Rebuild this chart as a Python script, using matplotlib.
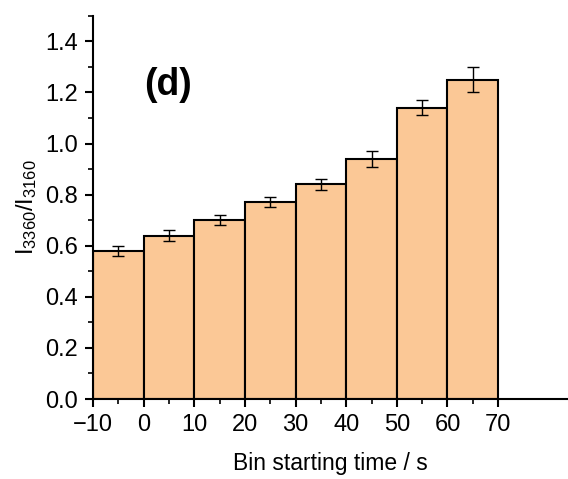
import matplotlib.pyplot as plt
from matplotlib.ticker import MultipleLocator, FixedLocator

plt.rcParams['font.family'] = ['Liberation Sans', 'DejaVu Sans']
plt.rcParams['mathtext.fontset'] = 'custom'
plt.rcParams['mathtext.rm'] = 'Liberation Sans'

# bin start times and ratio values
bin_start = [-10, 0, 10, 20, 30, 40, 50, 60]
ratio = [0.58, 0.64, 0.70, 0.77, 0.84, 0.94, 1.14, 1.25]
ratio_err = [0.02, 0.02, 0.02, 0.02, 0.02, 0.03, 0.03, 0.05]
bin_width = 10

fig = plt.figure(figsize=(5.68, 4.79), dpi=100)
ax = fig.add_axes([0.1637, 0.167, 0.8363, 0.80])

centers = [b + bin_width / 2 for b in bin_start]
ax.bar(centers, ratio, width=bin_width, color='#FBC896', edgecolor='black',
       linewidth=1.5, zorder=2)
ax.errorbar(centers, ratio, yerr=ratio_err, fmt='none', ecolor='black',
            elinewidth=1, capsize=4, capthick=1, zorder=3)

ax.set_xlim(-10, 83.8)
ax.set_ylim(0, 1.5)
ax.set_xticks(range(-10, 80, 10))
ax.set_yticks([0.0, 0.2, 0.4, 0.6, 0.8, 1.0, 1.2, 1.4])
ax.xaxis.set_minor_locator(FixedLocator(centers))
ax.yaxis.set_minor_locator(MultipleLocator(0.1))
ax.yaxis.set_major_formatter(plt.FormatStrFormatter('%.1f'))

ax.spines['top'].set_visible(False)
ax.spines['right'].set_visible(False)
ax.spines['left'].set_linewidth(1.5)
ax.spines['bottom'].set_linewidth(1.5)
ax.tick_params(which='major', direction='out', length=6, width=1.5,
               labelsize=17, pad=5)
ax.tick_params(which='minor', direction='out', length=3.5, width=1.2)

ax.set_xlabel('Bin starting time / s', fontsize=16.5, labelpad=11)
ax.set_ylabel('$\\mathregular{I_{3360}/I_{3160}}$', fontsize=17, labelpad=4)
ax.text(4.8, 1.23, '(d)', fontsize=27, fontweight='bold', ha='center', va='center')

fig.savefig('out.png', dpi=100)
